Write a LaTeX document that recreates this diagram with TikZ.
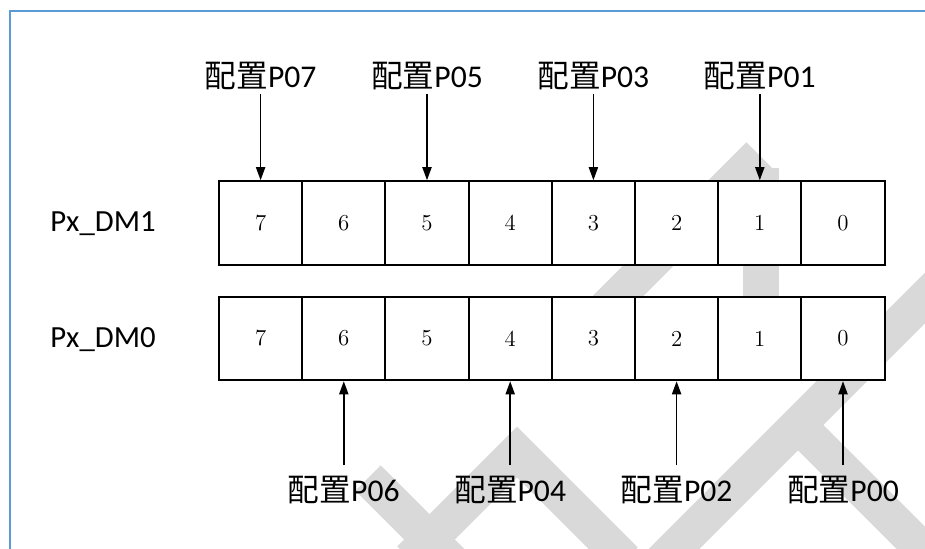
\documentclass[tikz,border=0pt]{standalone}
\usepackage{fontspec}
\usepackage{tikz}
\usetikzlibrary{arrows.meta}
\newfontfamily\cjkfont{Noto Sans CJK SC}
\newfontfamily\calfont{Carlito}
\definecolor{frameblue}{HTML}{5B9BD5}
\definecolor{markgray}{HTML}{D9D9D9}
\newcommand{\cfg}[1]{{\cjkfont 配置}#1}

\begin{document}
\begin{tikzpicture}[
    bitcell/.style={draw, fill=white, line width=1.1pt, minimum width=1.664cm,
                    minimum height=1.67cm, inner sep=0pt, font=\fontsize{13}{15}\selectfont},
    cfglabel/.style={inner sep=2pt, anchor=base, font=\calfont\fontsize{18}{20}\selectfont},
    reglabel/.style={font=\calfont\fontsize{17.5}{19}\selectfont},
    arr/.style={line width=1pt, -{Triangle[length=7.5pt,width=5.2pt]}},
    wmark/.style={markgray, line width=0.72cm},
  ]
        \useasboundingbox (0,0) rectangle (18.5,10.96);
        % watermark stripes
        \draw [wmark] (15.18,7.86) -- (11.2,3.88);                   %
        \draw [wmark] (15.22,7.60) -- (15.22,4.16);                  %
        \draw [wmark] (19.3,5.8)   -- (12.8,-0.7);                   %
        \draw [wmark] (15.8,2.62)  -- (18.8,-0.38);                  %
        \draw [wmark, line join=miter] (8.2,-0.22) -- (10.34,1.92) -- (12.5,-0.24);
        \draw [wmark] (7.36,1.40)  -- (9.6,-0.84);                   %
        % frame
        \draw [frameblue, line width=1.1pt] (19,10.74) -- (0.2,10.74) -- (0.2,-1);

        \node [reglabel] (dm1) at (2.06,6.48) {Px\_DM1};            %
        \node [reglabel] (dm0) at (2.06,4.16) {Px\_DM0};            %

        \node [bitcell] (dm1b7) at (5.212,6.50)  {7};                %DM1
        \node [bitcell] (dm1b6) at (6.876,6.50)  {6};                %
        \node [bitcell] (dm1b5) at (8.540,6.50)  {5};                %
        \node [bitcell] (dm1b4) at (10.204,6.50) {4};                %
        \node [bitcell] (dm1b3) at (11.868,6.50) {3};                %
        \node [bitcell] (dm1b2) at (13.532,6.50) {2};                %
        \node [bitcell] (dm1b1) at (15.196,6.50) {1};                %
        \node [bitcell] (dm1b0) at (16.860,6.50) {0};                %

        \node [bitcell] (dm0b7) at (5.212,4.19)  {7};                %DM0
        \node [bitcell] (dm0b6) at (6.876,4.19)  {6};                %
        \node [bitcell] (dm0b5) at (8.540,4.19)  {5};                %
        \node [bitcell] (dm0b4) at (10.204,4.19) {4};                %
        \node [bitcell] (dm0b3) at (11.868,4.19) {3};                %
        \node [bitcell] (dm0b2) at (13.532,4.19) {2};                %
        \node [bitcell] (dm0b1) at (15.196,4.19) {1};                %
        \node [bitcell] (dm0b0) at (16.860,4.19) {0};                %

        \node [cfglabel] (p07) at (5.212,9.2)  {\cfg{P07}};          %odd pins
        \node [cfglabel] (p05) at (8.540,9.2)  {\cfg{P05}};          %
        \node [cfglabel] (p03) at (11.868,9.2) {\cfg{P03}};          %
        \node [cfglabel] (p01) at (15.196,9.2) {\cfg{P01}};          %
        \draw [arr] (p07) -- (dm1b7);                                %
        \draw [arr] (p05) -- (dm1b5);                                %
        \draw [arr] (p03) -- (dm1b3);                                %
        \draw [arr] (p01) -- (dm1b1);                                %

        \node [cfglabel] (p06) at (6.876,0.94)  {\cfg{P06}};         %even pins
        \node [cfglabel] (p04) at (10.204,0.94) {\cfg{P04}};         %
        \node [cfglabel] (p02) at (13.532,0.94) {\cfg{P02}};         %
        \node [cfglabel] (p00) at (16.860,0.94) {\cfg{P00}};         %
        \draw [arr, shorten <=0.13cm] (p06) -- (dm0b6);              %
        \draw [arr, shorten <=0.13cm] (p04) -- (dm0b4);              %
        \draw [arr, shorten <=0.13cm] (p02) -- (dm0b2);              %
        \draw [arr, shorten <=0.13cm] (p00) -- (dm0b0);              %
\end{tikzpicture}
\end{document}
